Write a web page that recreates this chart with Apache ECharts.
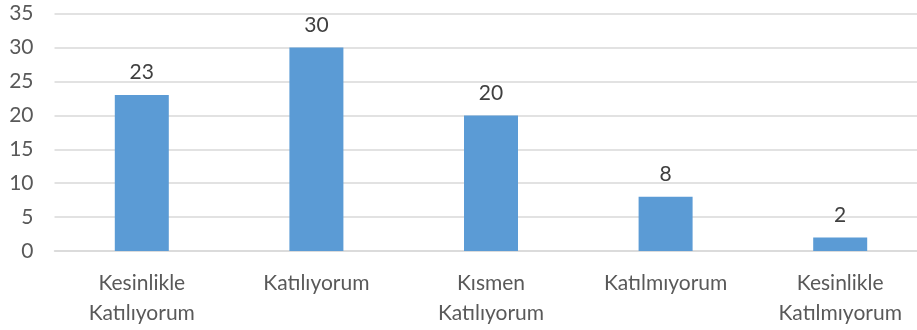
<!DOCTYPE html>
<html><head><meta charset="utf-8">
<script src="https://cdn.jsdelivr.net/npm/echarts@6/dist/echarts.min.js"></script>
<style>html,body{margin:0;padding:0;background:#fff}#c{width:917px;height:330px}</style>
</head><body><div id="c"></div>
<script>
var categories = ["Kesinlikle\nKatılıyorum", "Katılıyorum", "Kısmen\nKatılıyorum", "Katılmıyorum", "Kesinlikle\nKatılmıyorum"];
var values = [23, 30, 20, 8, 2];
var yTicks = [0, 5, 10, 15, 20, 25, 30, 35];

var chart = echarts.init(document.getElementById('c'));
chart.setOption({
  animation: false,
  grid: {left: 54.5, top: 13.7, width: 873, height: 237.3, outerBoundsMode: 'none', containLabel: false},
  xAxis: {
    type: 'category', data: categories,
    axisLine: {lineStyle: {color: '#d9d9d9', width: 1.5}},
    axisTick: {show: false},
    axisLabel: {color: '#595959', fontFamily: 'Lato', fontSize: 21, lineHeight: 30, margin: 17}
  },
  yAxis: {
    type: 'value', min: yTicks[0], max: yTicks[yTicks.length - 1], interval: 5,
    axisLine: {show: false}, axisTick: {show: false},
    splitLine: {lineStyle: {color: '#d9d9d9', width: 1.5}},
    axisLabel: {color: '#595959', fontFamily: 'Lato', fontSize: 21, margin: 21}
  },
  series: [{
    type: 'bar', data: values, barWidth: 54,
    itemStyle: {color: '#5b9bd5'},
    label: {show: true, position: 'top', distance: 12, color: '#404040', fontFamily: 'Lato', fontSize: 21}
  }]
});
</script></body></html>
